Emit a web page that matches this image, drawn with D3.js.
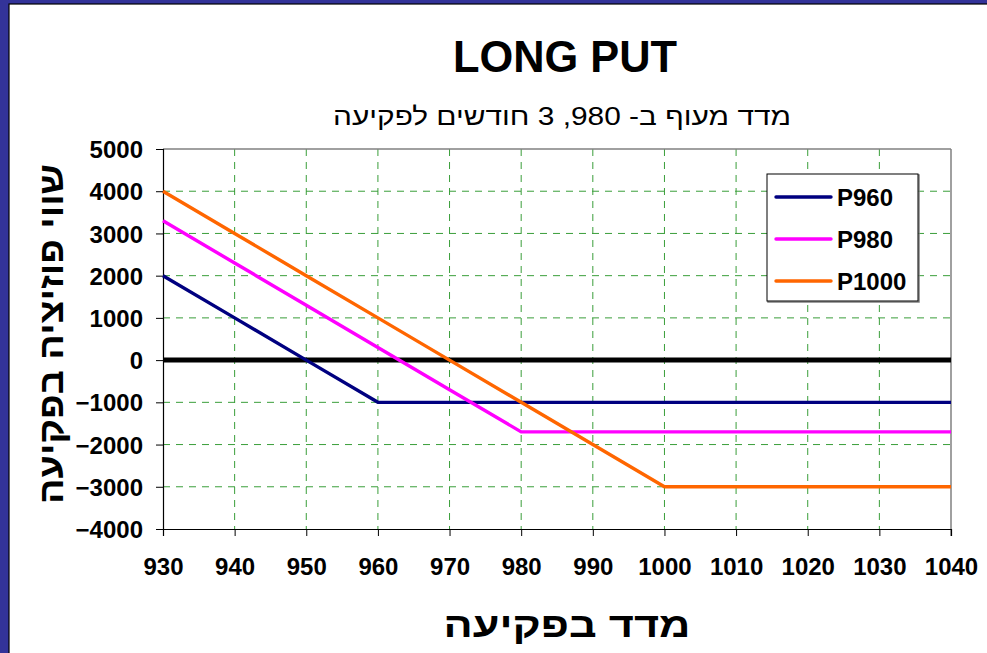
<!DOCTYPE html>
<html><head><meta charset="utf-8">
<script src="https://cdn.jsdelivr.net/npm/d3@7"></script>
<style>
html,body{margin:0;padding:0;background:#fff;}
svg{display:block;}
text{font-family:"Liberation Sans","DejaVu Sans",Arial,sans-serif;}
</style></head>
<body>
<svg id="chart" width="987" height="653"></svg>
<script>
const strikes = [930,940,950,960,970,980,990,1000,1010,1020,1030,1040];
const p960  = [2000,1000,0,-1000,-1000,-1000,-1000,-1000,-1000,-1000,-1000,-1000];
const p980  = [3300,2300,1300,300,-700,-1700,-1700,-1700,-1700,-1700,-1700,-1700];
const p1000 = [4000,3000,2000,1000,0,-1000,-2000,-3000,-3000,-3000,-3000,-3000];
const zeroLine = [0,0,0,0,0,0,0,0,0,0,0,0];
const yTicks = [5000,4000,3000,2000,1000,0,-1000,-2000,-3000,-4000];
const xTicks = strikes;
const seriesNames = ["P960","P980","P1000"];
const seriesColors = ["#000080","#FF00FF","#FF6600"];
const titleText = "LONG PUT";
const subtitleText = "מדד מעוף ב- 980, 3 חודשים לפקיעה";
const xTitle = "מדד בפקיעה";
const yTitle = "שווי פוזיציה בפקיעה";

const svg = d3.select("#chart");
svg.append("rect").attr("x",0).attr("y",0).attr("width",987).attr("height",653).attr("fill","#333399");
svg.append("rect").attr("x",9).attr("y",4).attr("width",980).attr("height",652).attr("fill","#fff")
  .attr("stroke","#000").attr("stroke-width",1.2);

const L=163,R=951,T=149,B=529;
const x = d3.scaleLinear().domain([930,1040]).range([L,R]);
const y = d3.scaleLinear().domain([-4000,5000]).range([B,T]);

const g = svg.append("g");
g.selectAll(".vg").data(xTicks.filter(d=>d>930&&d<1040)).enter().append("line")
  .attr("x1",d=>x(d)).attr("x2",d=>x(d)).attr("y1",T).attr("y2",B)
  .attr("stroke","#3A9E3A").attr("stroke-width",1).attr("stroke-dasharray","7,6");
g.selectAll(".hg").data(yTicks.filter(d=>d<5000&&d>-4000&&d!==0)).enter().append("line")
  .attr("x1",L).attr("x2",R).attr("y1",d=>y(d)).attr("y2",d=>y(d))
  .attr("stroke","#3A9E3A").attr("stroke-width",1).attr("stroke-dasharray","7,6");

svg.append("line").attr("x1",L).attr("x2",R).attr("y1",T).attr("y2",T).attr("stroke","#808080").attr("stroke-width",1.5);
svg.append("line").attr("x1",R).attr("x2",R).attr("y1",T).attr("y2",B+7).attr("stroke","#808080").attr("stroke-width",1.5);

const yAxis = d3.axisLeft(y).tickValues(yTicks).tickSize(7).tickFormat(d3.format("d"));
const ya = svg.append("g").attr("transform",`translate(${L},0)`).call(yAxis);
ya.select(".domain").attr("stroke","#000").attr("stroke-width",1.2);
ya.selectAll(".tick line").attr("stroke","#000");
ya.selectAll("text").attr("font-size","24px").attr("font-weight","bold").attr("fill","#000")
  .attr("x",-20).attr("dy","0.36em");

const xAxis = d3.axisBottom(x).tickValues(xTicks).tickSize(7).tickFormat(d3.format("d"));
const xa = svg.append("g").attr("transform",`translate(0,${B})`).call(xAxis);
xa.select(".domain").attr("stroke","#000").attr("stroke-width",1.2);
xa.selectAll(".tick line").attr("stroke","#000");
xa.selectAll("text").attr("font-size","24px").attr("font-weight","bold").attr("fill","#000")
  .attr("y",46).attr("dy","0");

const line = d3.line().x((d,i)=>x(strikes[i])).y(d=>y(d));
svg.append("path").datum(zeroLine).attr("d",line).attr("fill","none").attr("stroke","#000").attr("stroke-width",5);
const data = [p960,p980,p1000];
data.forEach((s,i)=>{
  svg.append("path").datum(s).attr("d",line).attr("fill","none")
    .attr("stroke",seriesColors[i]).attr("stroke-width",3.4).attr("stroke-linejoin","miter");
});

const lg = svg.append("g");
lg.append("rect").attr("x",768).attr("y",175).attr("width",151).attr("height",127)
  .attr("fill","none").attr("stroke","#808080").attr("stroke-width",1.5);
lg.append("rect").attr("x",767).attr("y",174).attr("width",151).attr("height",127)
  .attr("fill","#fff").attr("stroke","#000").attr("stroke-width",1);
seriesNames.forEach((n,i)=>{
  const yy = 197 + i*42;
  lg.append("line").attr("x1",776).attr("x2",831).attr("y1",yy).attr("y2",yy)
    .attr("stroke",seriesColors[i]).attr("stroke-width",3.4).attr("stroke-linecap","round");
  lg.append("text").attr("x",837).attr("y",yy).attr("dy","0.36em")
    .attr("font-size","24px").attr("font-weight","bold").text(n);
});

svg.append("text").attr("x",565).attr("y",72).attr("text-anchor","middle")
  .attr("font-size","44px").attr("font-weight","bold").attr("textLength",224).attr("lengthAdjust","spacingAndGlyphs").text(titleText);
svg.append("text").attr("x",562).attr("y",125).attr("text-anchor","middle").attr("direction","rtl")
  .attr("font-size","25px").attr("textLength",458).attr("lengthAdjust","spacingAndGlyphs").text(subtitleText);
svg.append("text").attr("x",567).attr("y",637).attr("text-anchor","middle").attr("direction","rtl")
  .attr("font-size","35px").attr("font-weight","bold").attr("textLength",247).attr("lengthAdjust","spacingAndGlyphs").text(xTitle);
svg.append("text").attr("transform","translate(63,334) rotate(-90)").attr("text-anchor","middle").attr("direction","rtl")
  .attr("font-size","35px").attr("font-weight","bold").attr("textLength",340).attr("lengthAdjust","spacingAndGlyphs").text(yTitle);
</script>
</body></html>
